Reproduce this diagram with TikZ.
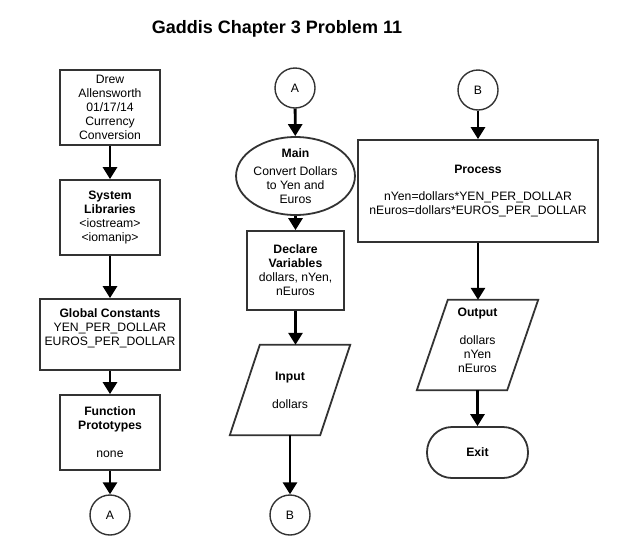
\documentclass[tikz,border=0pt]{standalone}
\usepackage{fontspec}
\setmainfont{Liberation Sans}
\usetikzlibrary{arrows.meta,shapes.geometric}
\definecolor{edge}{HTML}{333333}
\tikzset{
  x=1pt,y=-1pt,
  every node/.style={font=\fontsize{12.2}{14}\selectfont, align=center, inner sep=0pt},
  procbox/.style={draw=edge, line width=1.8pt, fill=white},
  conn/.style={draw=edge, line width=1.4pt, circle, minimum size=40pt},
  ioshape/.style={minimum width=90pt, minimum height=90pt},
  flow/.style={line width=2.8pt, -{Triangle[width=14pt,length=12pt]}},
}
\begin{document}
\begin{tikzpicture}
\useasboundingbox (0,0) rectangle (618,555);
\node[font=\fontsize{18}{20}\selectfont\bfseries] (title) at (277,29) {Gaddis Chapter 3 Problem 11};

% left column
\node[procbox, minimum width=100pt, minimum height=75pt] (b1) at (110,107.5) {Drew\\Allensworth\\01/17/14\\Currency\\Conversion};
\node[procbox, minimum width=100pt, minimum height=75pt] (b2) at (110,217.5) {\textbf{System}\\\textbf{Libraries}\\<iostream>\\<iomanip>};
\node[procbox, minimum width=140pt, minimum height=71pt] (b3) at (110,334.5) {\textbf{Global Constants}\\YEN\_PER\_DOLLAR\\EUROS\_PER\_DOLLAR\\ \mbox{}};
\node[procbox, minimum width=100pt, minimum height=75pt] (b4) at (110,432.5) {\textbf{Function}\\\textbf{Prototypes}\\[14pt]none};
\node[conn] (ca1) at (110,515) {A};

% middle column
\node[conn] (ca2) at (295,88) {A};
\node[draw=edge, line width=1.8pt, ellipse, minimum width=101pt, minimum height=78pt] (main) at (295.5,176) {\textbf{Main}\\[4pt]Convert Dollars\\to Yen and\\Euros};
\node[procbox, minimum width=97pt, minimum height=79pt] (dv) at (295.5,270.5) {\textbf{Declare}\\\textbf{Variables}\\dollars, nYen,\\nEuros};
\node[ioshape] (in) at (290,390) {\textbf{Input}\\[14pt]dollars};
\draw[draw=edge, line width=1.8pt] ([xshift=15pt]in.north west) -- ([xshift=15pt]in.north east) -- ([xshift=-15pt]in.south east) -- ([xshift=-15pt]in.south west) -- cycle;
\node[conn] (cb1) at (290,515) {B};

% right column
\node[conn] (cb2) at (478,90) {B};
\node[procbox, minimum width=240pt, minimum height=102pt] (proc) at (478,191) {\textbf{Process}\\[13pt]nYen=dollars*YEN\_PER\_DOLLAR\\nEuros=dollars*EUROS\_PER\_DOLLAR};
\node[ioshape] (out) at (477.5,345) {\textbf{Output}\\[14pt]dollars\\nYen\\nEuros\\[-5pt]\mbox{}};
\draw[draw=edge, line width=1.8pt] ([xshift=15.5pt]out.north west) -- ([xshift=15.5pt]out.north east) -- ([xshift=-15.5pt]out.south east) -- ([xshift=-15.5pt]out.south west) -- cycle;
\node[procbox, rounded corners=25pt, minimum width=101pt, minimum height=51pt] (exit) at (477.5,452.5) {\textbf{Exit}};

% connectors
\draw[flow] (b1) -- (b2);
\draw[flow] (b2) -- (b3);
\draw[flow] (b3) -- (b4);
\draw[flow] (b4) -- (ca1);
\draw[flow] (ca2) -- (main);
\draw[flow] (main) -- (dv);
\draw[flow] (dv) -- (dv |- in.north);
\draw[flow] (in.south) -- (cb1);
\draw[flow] (cb2) -- (proc);
\draw[flow] (proc) -- (proc |- out.north);
\draw[flow] (out.south) -- (exit);
\end{tikzpicture}
\end{document}
